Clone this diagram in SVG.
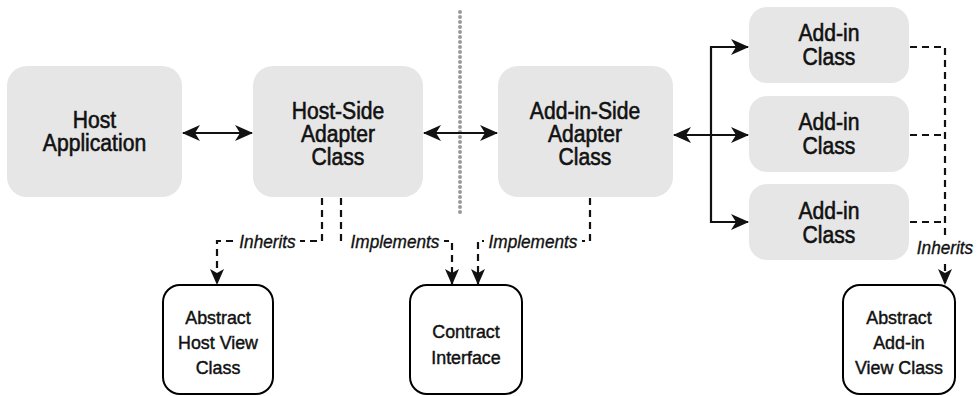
<svg xmlns="http://www.w3.org/2000/svg" width="977" height="396" viewBox="0 0 977 396">
<style>
.box{fill:#e6e6e6;stroke:none}
.ob{fill:#fff;stroke:#000;stroke-width:2}
.t{font-family:"Liberation Sans",Arial,sans-serif;font-size:24px;fill:#111;text-anchor:middle;stroke:#111;stroke-width:0.6}
.s{font-family:"Liberation Sans",Arial,sans-serif;font-size:19px;fill:#111;text-anchor:middle;stroke:#111;stroke-width:0.45}
.lb{font-family:"Liberation Sans",Arial,sans-serif;font-size:18.5px;font-style:italic;fill:#111;text-anchor:middle;stroke:#111;stroke-width:0.35}
.bg{fill:#fff;stroke:none}
.solid{fill:none;stroke:#111;stroke-width:2.2}
.dash{fill:none;stroke:#111;stroke-width:2.2;stroke-dasharray:7 5}
.dots{fill:none;stroke:#9a9a9a;stroke-width:4;stroke-linecap:round;stroke-dasharray:0 5}
</style>
<defs>
<marker id="ah" markerUnits="userSpaceOnUse" viewBox="0 0 18 18" refX="17" refY="9" markerWidth="18" markerHeight="18" orient="auto-start-reverse">
<path d="M0,1 L18,9 L0,17 L5,9 Z" fill="#111"/>
</marker>
<marker id="ahs" markerUnits="userSpaceOnUse" viewBox="0 0 16 16" refX="15" refY="8" markerWidth="16" markerHeight="16" orient="auto">
<path d="M0,1 L16,8 L0,15 L4,8 Z" fill="#111"/>
</marker>
</defs>

<line class="dots" x1="460" y1="12" x2="460" y2="214"/>

<g id="host-application"><rect class="box" x="7" y="66" width="175" height="131" rx="20"/>
<g transform="translate(94.5,0) scale(0.88,1)"><text class="t" x="0" y="128">Host</text><text class="t" x="0" y="151.5">Application</text></g></g>

<g id="host-side-adapter"><rect class="box" x="253" y="66" width="170" height="131" rx="20"/>
<g transform="translate(338,0) scale(0.88,1)"><text class="t" x="0" y="119">Host-Side</text><text class="t" x="0" y="142">Adapter</text><text class="t" x="0" y="165">Class</text></g></g>

<g id="addin-side-adapter"><rect class="box" x="498" y="66" width="175" height="131" rx="20"/>
<g transform="translate(585,0) scale(0.88,1)"><text class="t" x="0" y="119">Add-in-Side</text><text class="t" x="0" y="142">Adapter</text><text class="t" x="0" y="165">Class</text></g></g>

<g id="addin-class-1"><rect class="box" x="749" y="7" width="160" height="76" rx="18"/>
<g transform="translate(829,0) scale(0.88,1)"><text class="t" x="0" y="41">Add-in</text><text class="t" x="0" y="65">Class</text></g></g>

<g id="addin-class-2"><rect class="box" x="749" y="96" width="160" height="76" rx="18"/>
<g transform="translate(829,0) scale(0.88,1)"><text class="t" x="0" y="130">Add-in</text><text class="t" x="0" y="154">Class</text></g></g>

<g id="addin-class-3"><rect class="box" x="749" y="184" width="160" height="76" rx="18"/>
<g transform="translate(829,0) scale(0.88,1)"><text class="t" x="0" y="219">Add-in</text><text class="t" x="0" y="243">Class</text></g></g>

<g id="abstract-host-view"><rect class="ob" x="163" y="285" width="110" height="109" rx="17"/>
<g transform="translate(218,0) scale(0.94,1)"><text class="s" x="0" y="324">Abstract</text><text class="s" x="0" y="349">Host View</text><text class="s" x="0" y="374">Class</text></g></g>

<g id="contract-interface"><rect class="ob" x="410" y="285" width="112" height="109" rx="17"/>
<g transform="translate(466,0) scale(0.94,1)"><text class="s" x="0" y="338">Contract</text><text class="s" x="0" y="364">Interface</text></g></g>

<g id="abstract-addin-view"><rect class="ob" x="843" y="285" width="112" height="109" rx="17"/>
<g transform="translate(899,0) scale(0.94,1)"><text class="s" x="0" y="324">Abstract</text><text class="s" x="0" y="349">Add-in</text><text class="s" x="0" y="374">View Class</text></g></g>

<g id="connectors">
<line class="solid" x1="183" y1="133" x2="252" y2="133" marker-start="url(#ah)" marker-end="url(#ah)"/>
<line class="solid" x1="424" y1="133" x2="497" y2="133" marker-start="url(#ah)" marker-end="url(#ah)"/>
<line class="solid" x1="674" y1="135" x2="748" y2="135" marker-start="url(#ah)" marker-end="url(#ah)"/>
<path class="solid" d="M748,47 H711 V222 H748" marker-start="url(#ah)" marker-end="url(#ah)"/>

<path class="dash" d="M322,198 V241 H217 V284" marker-end="url(#ahs)"/>
<path class="dash" d="M341,198 V241 H452 V284" marker-end="url(#ahs)"/>
<path class="dash" d="M590,198 V241 H478 V284" marker-end="url(#ahs)"/>
<path class="dash" d="M910,47 H945 V284" marker-end="url(#ahs)"/>
<path class="dash" d="M910,135 H945"/>
<path class="dash" d="M910,222 H945"/>

<rect class="bg" x="236" y="230" width="64" height="23"/>
<rect class="bg" x="346" y="230" width="98" height="23"/>
<rect class="bg" x="484" y="230" width="98" height="23"/>
<rect class="bg" x="914" y="236" width="62" height="23"/>
<g transform="translate(267.5,248) scale(0.93,1)"><text class="lb" x="0" y="0">Inherits</text></g>
<g transform="translate(395,248) scale(0.93,1)"><text class="lb" x="0" y="0">Implements</text></g>
<g transform="translate(533,248) scale(0.93,1)"><text class="lb" x="0" y="0">Implements</text></g>
<g transform="translate(945,254) scale(0.93,1)"><text class="lb" x="0" y="0">Inherits</text></g>
</g>
</svg>
